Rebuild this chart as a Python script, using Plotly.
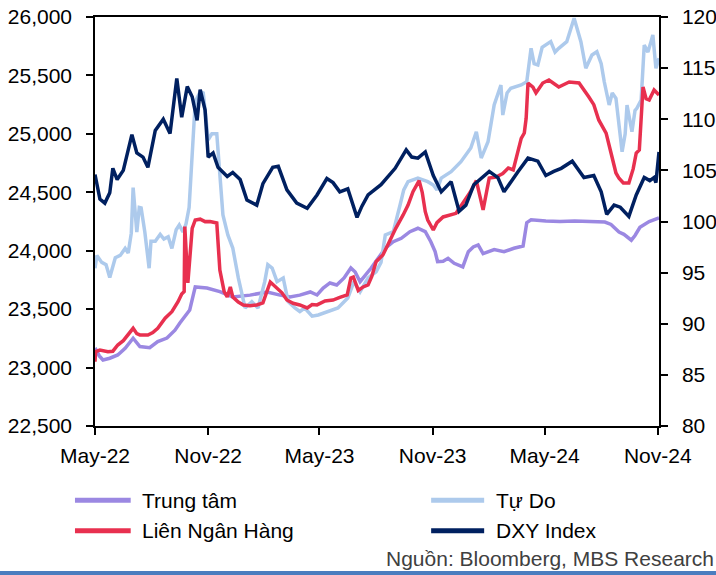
import plotly.graph_objects as go

# ---------------- data ----------------
trung_tam_dates = ["2022-05-01","2022-05-08","2022-05-14","2022-05-25","2022-06-07","2022-06-19","2022-07-02","2022-07-13",
    "2022-07-29","2022-08-11","2022-08-26","2022-09-08","2022-09-16","2022-09-26","2022-10-02","2022-10-11","2022-10-30",
    "2022-11-20","2022-12-11","2023-01-08","2023-02-05","2023-02-26","2023-03-14","2023-03-30","2023-04-16","2023-04-27",
    "2023-05-07","2023-05-18","2023-05-29","2023-06-10","2023-06-21","2023-06-28","2023-07-06","2023-07-24","2023-08-07",
    "2023-08-16","2023-08-29","2023-09-11","2023-09-25","2023-10-08","2023-10-20","2023-10-29","2023-11-05","2023-11-09",
    "2023-11-18","2023-11-26","2023-12-06","2023-12-20","2023-12-29","2024-01-06","2024-01-14","2024-01-22","2024-02-09",
    "2024-02-25","2024-03-12","2024-03-27","2024-04-02","2024-04-09","2024-05-03","2024-05-26","2024-06-19","2024-07-14",
    "2024-08-07","2024-08-17","2024-08-30","2024-09-07","2024-09-19","2024-09-25","2024-10-03","2024-10-18","2024-10-28",
    "2024-11-03"]
trung_tam = [23168,23100,23065,23080,23108,23165,23251,23180,23170,23222,23253,23320,23382,23450,23493,23690,23681,
    23650,23604,23620,23647,23620,23604,23620,23647,23621,23680,23724,23707,23767,23852,23818,23735,23852,23963,
    24021,24077,24106,24163,24192,24163,24077,23992,23906,23910,23935,23892,23861,23992,24032,24049,23975,24010,
    23992,24021,24040,24240,24265,24255,24250,24255,24250,24245,24225,24160,24140,24090,24130,24200,24250,24270,
    24280]

tu_do_dates = ["2022-05-01","2022-05-04","2022-05-12","2022-05-19","2022-05-25","2022-06-03","2022-06-11","2022-06-19",
    "2022-06-24","2022-06-29","2022-07-02","2022-07-08","2022-07-12","2022-07-15","2022-07-21","2022-07-28","2022-07-31",
    "2022-08-07","2022-08-15","2022-08-21","2022-08-28","2022-09-03","2022-09-10","2022-09-15","2022-09-21","2022-09-26",
    "2022-10-01","2022-10-06","2022-10-11","2022-10-19","2022-10-24","2022-11-01","2022-11-07","2022-11-15","2022-11-20",
    "2022-11-25","2022-12-03","2022-12-11","2022-12-20","2022-12-26","2022-12-31","2023-01-11","2023-01-21","2023-02-01",
    "2023-02-06","2023-02-13","2023-02-21","2023-03-03","2023-03-11","2023-03-22","2023-03-30","2023-04-07","2023-04-19",
    "2023-04-29","2023-05-15","2023-05-31","2023-06-16","2023-06-26","2023-07-06","2023-07-19","2023-08-01","2023-08-09",
    "2023-08-16","2023-08-29","2023-09-09","2023-09-15","2023-09-22","2023-10-08","2023-10-24","2023-11-02","2023-11-08",
    "2023-11-15","2023-12-01","2023-12-17","2024-01-02","2024-01-11","2024-01-19","2024-01-30","2024-02-09","2024-02-15",
    "2024-02-20","2024-02-23","2024-03-01","2024-03-07","2024-03-24","2024-04-02","2024-04-09","2024-04-14","2024-04-20",
    "2024-04-27","2024-05-03","2024-05-11","2024-05-18","2024-05-24","2024-06-06","2024-06-18","2024-06-29","2024-07-07",
    "2024-07-17","2024-07-25","2024-08-01","2024-08-06","2024-08-14","2024-08-19","2024-08-25","2024-08-30","2024-09-04",
    "2024-09-09","2024-09-12","2024-09-20","2024-09-25","2024-09-28","2024-10-05","2024-10-10","2024-10-16","2024-10-21",
    "2024-10-24","2024-10-29","2024-11-03"]
tu_do = [23850,23960,23900,23880,23770,23940,23960,24020,23980,24150,24540,24160,24370,24366,24160,23850,24080,
    24080,24140,24100,24120,24020,24180,24220,24160,24230,24370,24880,25275,25360,25350,24950,25000,25000,24680,
    24306,24135,24023,23767,23620,23510,23564,23510,23735,23880,23852,23735,23767,23564,23510,23480,23510,23440,
    23450,23478,23510,23595,23735,23649,23767,23820,23900,24135,24163,24391,24520,24591,24622,24591,24562,24520,
    24622,24676,24762,24879,25018,24793,24933,25247,25330,25418,25161,25350,25390,25418,25446,25732,25600,25589,
    25740,25760,25789,25700,25732,25789,25989,25789,25561,25675,25703,25600,25446,25247,25350,25304,25100,24847,
    25000,25247,25018,25200,25219,25290,25760,25700,25789,25846,25561,25647]

lien_ngan_hang_dates = ["2022-05-01","2022-05-02","2022-05-09","2022-05-22","2022-05-30","2022-06-07","2022-06-16",
    "2022-06-24","2022-07-02","2022-07-08","2022-07-13","2022-07-26","2022-08-03","2022-08-11","2022-08-23","2022-09-03",
    "2022-09-13","2022-09-19","2022-09-23","2022-09-24","2022-09-28","2022-09-29","2022-10-06","2022-10-11","2022-10-19",
    "2022-10-27","2022-11-04","2022-11-15","2022-11-20","2022-11-27","2022-12-02","2022-12-07","2022-12-11","2022-12-20",
    "2022-12-28","2023-01-08","2023-01-19","2023-01-29","2023-02-10","2023-02-21","2023-03-01","2023-03-09","2023-03-19",
    "2023-03-30","2023-04-11","2023-04-19","2023-04-27","2023-05-10","2023-05-23","2023-06-03","2023-06-15","2023-06-21",
    "2023-06-25","2023-07-03","2023-07-11","2023-07-19","2023-07-25","2023-08-01","2023-08-12","2023-08-20","2023-09-02",
    "2023-09-14","2023-09-22","2023-09-30","2023-10-10","2023-10-15","2023-10-20","2023-10-24","2023-11-02","2023-11-08",
    "2023-11-18","2023-12-09","2023-12-22","2024-01-01","2024-01-11","2024-01-15","2024-01-22","2024-02-01","2024-02-12",
    "2024-02-23","2024-03-03","2024-03-11","2024-03-16","2024-03-24","2024-03-29","2024-04-01","2024-04-04","2024-04-12",
    "2024-04-17","2024-04-28","2024-05-08","2024-05-24","2024-06-10","2024-06-26","2024-07-12","2024-07-20","2024-07-28",
    "2024-08-09","2024-08-17","2024-08-25","2024-08-30","2024-09-06","2024-09-15","2024-09-22","2024-09-27","2024-10-02",
    "2024-10-08","2024-10-13","2024-10-18","2024-10-26","2024-11-03"]
lien_ngan_hang = [23050,23136,23150,23136,23140,23193,23230,23279,23336,23290,23279,23279,23300,23336,23422,23478,
    23564,23630,23650,24206,23735,23724,24192,24263,24270,24249,24250,24237,23835,23650,23604,23690,23604,23560,
    23536,23530,23536,23553,23732,23681,23640,23578,23550,23536,23510,23540,23536,23570,23578,23600,23621,23767,
    23775,23660,23690,23707,23780,23906,23963,24049,24192,24306,24391,24505,24600,24500,24334,24263,24177,24240,
    24289,24320,24420,24500,24600,24500,24349,24622,24631,24660,24708,24691,24791,24962,25007,25133,25435,25400,
    25350,25435,25461,25401,25444,25435,25315,25250,25119,25007,24836,24665,24620,24580,24580,24700,24836,24862,
    25401,25300,25290,25375,25333]

dxy_dates = ["2022-05-01","2022-05-09","2022-05-17","2022-05-25","2022-05-30","2022-06-06","2022-06-16","2022-06-24",
    "2022-06-30","2022-07-08","2022-07-18","2022-07-26","2022-08-07","2022-08-20","2022-08-31","2022-09-11","2022-09-19",
    "2022-09-28","2022-10-06","2022-10-14","2022-10-19","2022-10-27","2022-11-01","2022-11-09","2022-11-17","2022-12-02",
    "2022-12-11","2022-12-23","2023-01-03","2023-01-19","2023-01-29","2023-02-14","2023-02-23","2023-03-09","2023-03-25",
    "2023-04-11","2023-04-27","2023-05-13","2023-05-23","2023-06-03","2023-06-16","2023-07-01","2023-07-09","2023-07-19",
    "2023-08-09","2023-09-01","2023-09-19","2023-09-28","2023-10-08","2023-10-20","2023-11-02","2023-11-15","2023-12-01",
    "2023-12-14","2023-12-25","2024-01-07","2024-02-01","2024-02-15","2024-02-25","2024-03-19","2024-04-04","2024-04-20",
    "2024-05-03","2024-05-16","2024-05-28","2024-06-15","2024-07-04","2024-07-20","2024-08-01","2024-08-10","2024-08-22",
    "2024-09-01","2024-09-15","2024-09-27","2024-10-10","2024-10-19","2024-10-26","2024-10-29","2024-11-03"]
dxy = [104.6,102.2,101.8,102.8,105.2,104.1,105.0,107.2,108.5,106.7,106.3,105.3,108.9,110.0,108.6,114.0,110.2,
    113.2,112.2,109.9,112.9,110.9,106.3,106.7,105.3,104.4,104.8,104.1,102.1,101.6,103.7,105.3,105.4,103.1,101.8,
    101.3,102.6,104.2,103.8,102.9,103.2,100.4,101.5,102.6,103.6,105.2,107.0,106.3,106.2,106.8,104.5,102.9,103.9,
    101.0,101.6,103.6,104.9,104.3,102.9,104.9,106.2,105.9,104.5,104.9,105.2,105.9,104.3,104.5,102.9,100.7,101.6,
    101.4,100.5,102.6,104.3,104.0,104.3,103.8,106.8]

tick_dates = ["2022-05-01","2022-11-01","2023-05-01","2023-11-01","2024-05-01","2024-11-01"]
tick_labels = ["May-22","Nov-22","May-23","Nov-23","May-24","Nov-24"]

series_names = ["Trung tâm", "Tự Do", "Liên Ngân Hàng", "DXY Index"]
colors = ["#9B88E2", "#ADCAEC", "#E8304F", "#002060"]
source_text = "Nguồn: Bloomberg, MBS Research"

FONT = "Liberation Sans, Arial, sans-serif"

fig = go.Figure()
fig.add_trace(go.Scatter(x=trung_tam_dates, y=trung_tam, name=series_names[0], mode="lines",
                         line=dict(color=colors[0], width=3.5)))
fig.add_trace(go.Scatter(x=tu_do_dates, y=tu_do, name=series_names[1], mode="lines",
                         line=dict(color=colors[1], width=3.5)))
fig.add_trace(go.Scatter(x=lien_ngan_hang_dates, y=lien_ngan_hang, name=series_names[2], mode="lines",
                         line=dict(color=colors[2], width=3.5)))
fig.add_trace(go.Scatter(x=dxy_dates, y=dxy, name=series_names[3], mode="lines", yaxis="y2",
                         line=dict(color=colors[3], width=3.5)))

axis_common = dict(showgrid=False, zeroline=False, showline=True, linecolor="black", linewidth=1.5,
                   ticks="outside", ticklen=7, tickwidth=1.5, tickcolor="black", automargin=False,
                   tickfont=dict(family=FONT, size=21, color="black"))

fig.update_layout(
    width=716, height=575,
    margin=dict(l=95, r=57, t=17, b=149, autoexpand=False),
    paper_bgcolor="white", plot_bgcolor="white",
    showlegend=False,
    xaxis=dict(type="date", range=["2022-05-01", "2024-11-03"], tickvals=tick_dates, ticktext=tick_labels,
               mirror=True, ticklabelstandoff=3, **axis_common),
    yaxis=dict(range=[22500, 26000], dtick=500, tickformat=",d", ticklabelstandoff=10, **axis_common),
    yaxis2=dict(range=[80, 120], dtick=5, overlaying="y", side="right", ticklabelstandoff=10, **axis_common),
    font=dict(family=FONT, color="black"),
)

# legend drawn as two columns below the plot
leg_rows = [-0.1817, -0.256]
leg_entries = [(0, -0.0355, 0.0633, 0.0798, leg_rows[0]),
               (1, 0.596, 0.690, 0.7074, leg_rows[0]),
               (2, -0.0355, 0.0633, 0.0798, leg_rows[1]),
               (3, 0.596, 0.690, 0.7074, leg_rows[1])]
for idx, x0, x1, xt, yy in leg_entries:
    fig.add_shape(type="line", xref="paper", yref="paper", x0=x0, x1=x1, y0=yy, y1=yy,
                  line=dict(color=colors[idx], width=5))
    fig.add_annotation(xref="paper", yref="paper", x=xt, y=yy, text=series_names[idx], showarrow=False,
                       xanchor="left", yanchor="middle", font=dict(family=FONT, size=21, color="black"))

fig.add_annotation(xref="paper", yref="paper", x=1.1002, y=-0.325, text=source_text,
                   showarrow=False, xanchor="right", yanchor="middle",
                   font=dict(family=FONT, size=21, color="#404040"))

fig.add_shape(type="rect", xref="paper", yref="paper", x0=-0.2, x1=1.2, y0=-0.3545, y1=-0.38,
              line=dict(width=0), fillcolor="#4A7DBF")

fig.write_html("out.html", config={"displayModeBar": False},
               post_script="document.body.style.margin='0';")
